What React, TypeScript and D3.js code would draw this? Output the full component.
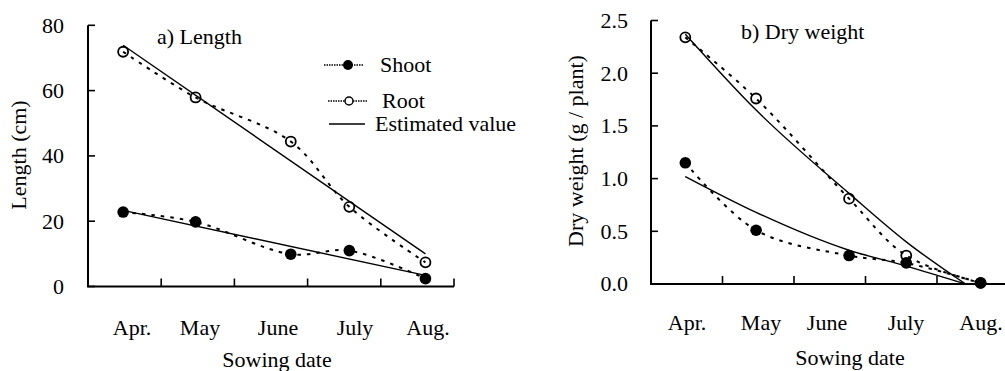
import React from "react";
import * as d3 from "d3";

// Sowing months and the position of each sowing within the month scale (0..5)
const months = ["Apr.", "May", "June", "July", "Aug."];
const sowingPos = [0.48, 1.47, 2.77, 3.57, 4.61];

// a) Length (cm)
const shootLength = [22.8, 19.8, 9.9, 11.0, 2.4];
const rootLength = [71.9, 57.9, 44.4, 24.4, 7.4];
const lengthEstPos = [0.48, 4.61];
const shootLengthEst = [23.3, 3.4];
const rootLengthEst = [73.9, 10.0];
const lengthTicks = [0, 20, 40, 60, 80];

// b) Dry weight (g / plant)
const shootWeight = [1.15, 0.51, 0.27, 0.2, 0.01];
const rootWeight = [2.34, 1.76, 0.81, 0.27, 0.01];
const weightEstPos = [0.48, 1.47, 2.77, 3.57, 4.4];
const shootWeightEst = [1.02, 0.68, 0.32, 0.17, 0.0];
const rootWeightEst = [2.37, 1.65, 0.86, 0.4, 0.0];
const weightTicks = [0, 0.5, 1.0, 1.5, 2.0, 2.5];

const FONT = "'Liberation Serif', 'Times New Roman', Times, serif";
const FS = 22;

type Pt = [number, number];
const zip = (xs: number[], ys: number[]): Pt[] => xs.map((x, i) => [x, ys[i]]);

interface PanelProps {
  x0: number;
  x1: number;
  yTop: number;
  yBottom: number;
  yMax: number;
  ticks: number[];
  tickFmt: (v: number) => string;
  title: string;
  titleX: number;
  titleY: number;
  yLabel: string;
  yLabelX: number;
  yLabelY: number;
  monthX: number[];
  monthY: number;
  xTitleX: number;
  xTitleY: number;
  shoot: number[];
  root: number[];
  estPos: number[];
  shootEst: number[];
  rootEst: number[];
  tickLabelRight: number;
}

function Panel(p: PanelProps) {
  const x = d3.scaleLinear().domain([0, 5]).range([p.x0, p.x1]);
  const y = d3.scaleLinear().domain([0, p.yMax]).range([p.yBottom, p.yTop]);

  const smooth = d3
    .line<Pt>()
    .x((d) => x(d[0]))
    .y((d) => y(d[1]))
    .curve(d3.curveCatmullRom.alpha(0.5));
  const est = d3
    .line<Pt>()
    .x((d) => x(d[0]))
    .y((d) => y(d[1]))
    .curve(p.estPos.length > 2 ? d3.curveMonotoneX : d3.curveLinear);

  const shootPts = zip(sowingPos, p.shoot);
  const rootPts = zip(sowingPos, p.root);

  return (
    <g>
      {/* estimated values */}
      <path d={est(zip(p.estPos, p.rootEst)) || ""} fill="none" stroke="#000" strokeWidth={1.4} />
      <path d={est(zip(p.estPos, p.shootEst)) || ""} fill="none" stroke="#000" strokeWidth={1.4} />
      {/* observed, smoothed dashed */}
      <path d={smooth(rootPts) || ""} fill="none" stroke="#000" strokeWidth={2} strokeDasharray="3.5,6" />
      <path d={smooth(shootPts) || ""} fill="none" stroke="#000" strokeWidth={2} strokeDasharray="3.5,6" />
      {rootPts.map((d, i) => (
        <circle key={"r" + i} cx={x(d[0])} cy={y(d[1])} r={5} fill="none" stroke="#000" strokeWidth={1.8} />
      ))}
      {shootPts.map((d, i) => (
        <circle key={"s" + i} cx={x(d[0])} cy={y(d[1])} r={5.8} fill="#000" />
      ))}

      {/* axes */}
      <path
        d={`M${p.x0},${y(p.yMax)}V${y(0)}H${x(5)}`}
        fill="none"
        stroke="#000"
        strokeWidth={2}
      />
      {p.ticks.map((t) => (
        <line key={"yt" + t} x1={p.x0} x2={p.x0 + 7} y1={y(t)} y2={y(t)} stroke="#000" strokeWidth={1.6} />
      ))}
      {d3.range(1, 6).map((i) => (
        <line key={"xt" + i} x1={x(i)} x2={x(i)} y1={y(0)} y2={y(0) - 8} stroke="#000" strokeWidth={1.6} />
      ))}
      {p.ticks.map((t) => (
        <text key={"yl" + t} x={p.tickLabelRight} y={y(t)} dy="0.34em" textAnchor="end">
          {p.tickFmt(t)}
        </text>
      ))}
      {months.map((m, i) => (
        <text key={m} x={p.monthX[i]} y={p.monthY} textAnchor="middle">
          {m}
        </text>
      ))}
      <text x={p.xTitleX} y={p.xTitleY} textAnchor="middle">
        Sowing date
      </text>
      <text
        transform={`translate(${p.yLabelX},${p.yLabelY}) rotate(-90)`}
        textAnchor="middle"
        dy="0.34em"
      >
        {p.yLabel}
      </text>
      <text x={p.titleX} y={p.titleY}>
        {p.title}
      </text>
    </g>
  );
}

function Legend() {
  const rows = [
    { label: "Shoot", y: 65, x1: 324, x2: 363, mx: 348, tx: 380, kind: "shoot" },
    { label: "Root", y: 101, x1: 328, x2: 367, mx: 349, tx: 382, kind: "root" },
    { label: "Estimated value", y: 124, x1: 329, x2: 365, mx: 0, tx: 375, kind: "est" },
  ];
  return (
    <g>
      {rows.map((r) => (
        <g key={r.label}>
          <line
            x1={r.x1}
            x2={r.x2}
            y1={r.y}
            y2={r.y}
            stroke="#000"
            strokeWidth={r.kind === "est" ? 1.4 : 1.5}
            strokeDasharray={r.kind === "est" ? undefined : "1.5,1"}
          />
          {r.kind === "shoot" && <circle cx={r.mx} cy={r.y} r={5} fill="#000" />}
          {r.kind === "root" && <circle cx={r.mx} cy={r.y} r={4} fill="#fff" stroke="#000" strokeWidth={1.5} />}
          <text x={r.tx} y={r.y} dy="0.34em">
            {r.label}
          </text>
        </g>
      ))}
    </g>
  );
}

export default function App() {
  return (
    <div style={{ position: "absolute", left: 0, top: 0 }}>
      <svg
        width={1005}
        height={371}
        style={{ display: "block", background: "#fff", fontFamily: FONT, fontSize: FS }}
      >
        <Panel
          x0={88}
          x1={454}
          yTop={25.3}
          yBottom={286.5}
          yMax={80}
          ticks={lengthTicks}
          tickFmt={(v) => String(v)}
          title="a) Length"
          titleX={157}
          titleY={44}
          yLabel="Length (cm)"
          yLabelX={19}
          yLabelY={155}
          monthX={[132, 200, 278, 355, 428]}
          monthY={335}
          xTitleX={277}
          xTitleY={367}
          shoot={shootLength}
          root={rootLength}
          estPos={lengthEstPos}
          shootEst={shootLengthEst}
          rootEst={rootLengthEst}
          tickLabelRight={64}
        />
        <Legend />
        <Panel
          x0={651}
          x1={1008.5}
          yTop={20.5}
          yBottom={284}
          yMax={2.5}
          ticks={weightTicks}
          tickFmt={(v) => v.toFixed(1)}
          title="b) Dry weight"
          titleX={741}
          titleY={39}
          yLabel="Dry weight (g / plant)"
          yLabelX={576}
          yLabelY={151}
          monthX={[687, 761, 827, 906, 981]}
          monthY={330}
          xTitleX={850}
          xTitleY={365}
          shoot={shootWeight}
          root={rootWeight}
          estPos={weightEstPos}
          shootEst={shootWeightEst}
          rootEst={rootWeightEst}
          tickLabelRight={628}
        />
      </svg>
    </div>
  );
}
